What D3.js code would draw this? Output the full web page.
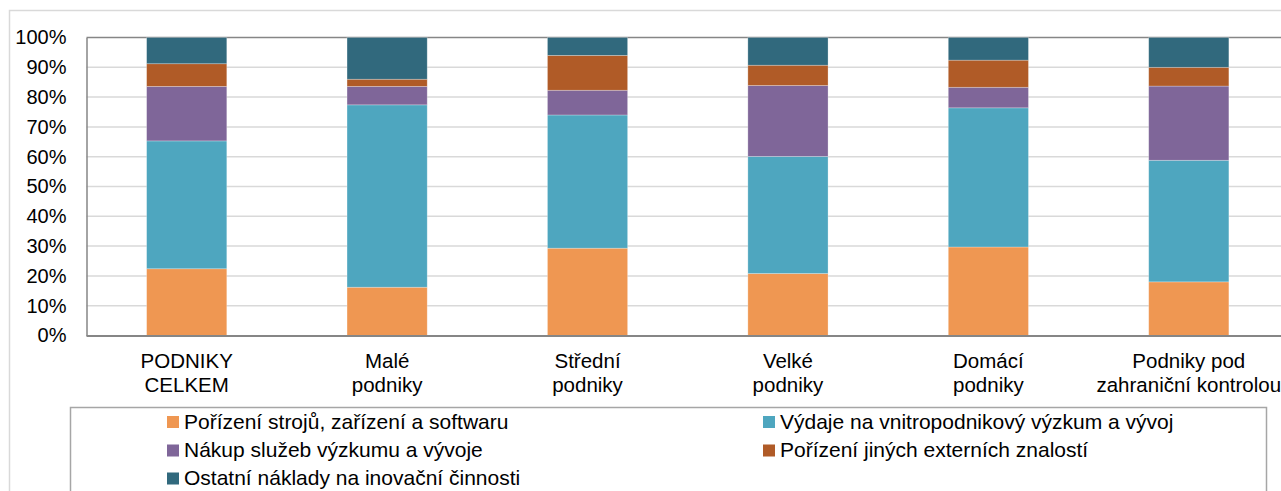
<html>
<head>
<meta charset="utf-8">
<script src="https://cdn.jsdelivr.net/npm/d3@7"></script>
<style>
  body { margin: 0; background: #fff; overflow: hidden; }
  svg { display: block; font-family: "Liberation Sans", Arial, sans-serif; }
  .tick text { fill: #000; }
</style>
</head>
<body>
<script>
// categories (two-line labels)
var categories = [
  ["PODNIKY", "CELKEM"],
  ["Malé", "podniky"],
  ["Střední", "podniky"],
  ["Velké", "podniky"],
  ["Domácí", "podniky"],
  ["Podniky pod", "zahraniční kontrolou"]
];

// series, % share
var seriesNames = [
  "Pořízení strojů, zařízení a softwaru",
  "Výdaje na vnitropodnikový výzkum a vývoj",
  "Nákup služeb výzkumu a vývoje",
  "Pořízení jiných externích znalostí",
  "Ostatní náklady na inovační činnosti"
];
var stroje   = [22.4, 16.2, 29.3, 20.8, 29.7, 18.0];
var vyzkum   = [42.9, 61.2, 44.7, 39.3, 46.7, 40.8];
var nakup    = [18.3,  6.2,  8.3, 23.8,  6.9, 24.9];
var znalosti = [ 7.6,  2.4, 11.7,  6.8,  9.1,  6.3];
var ostatni  = [ 8.8, 14.0,  6.0,  9.3,  7.6, 10.0];

var yTicks = [0, 10, 20, 30, 40, 50, 60, 70, 80, 90, 100];
var colors = ["#ef9752", "#4ea6bf", "#7f6699", "#b05b27", "#31697d"];

var width = 1281, height = 491;
var svg = d3.select("body").append("svg")
  .attr("width", width)
  .attr("height", height);

// outer chart frame
svg.append("rect")
  .attr("x", 9.5).attr("y", 10.5)
  .attr("width", 1300).attr("height", 500)
  .attr("fill", "none")
  .attr("stroke", "#d9d9d9")
  .attr("stroke-width", 1.5);

var keys = seriesNames;
var table = categories.map(function(c, i) {
  var row = { cat: c.join(" ") };
  row[keys[0]] = stroje[i];
  row[keys[1]] = vyzkum[i];
  row[keys[2]] = nakup[i];
  row[keys[3]] = znalosti[i];
  row[keys[4]] = ostatni[i];
  return row;
});

var x = d3.scaleBand()
  .domain(table.map(d => d.cat))
  .range([86.5, 1289])
  .paddingInner(0.6)
  .paddingOuter(0.3);

var y = d3.scaleLinear()
  .domain([0, 100])
  .range([335.5, 37.5]);

// gridlines
svg.append("g")
  .selectAll("line")
  .data(yTicks.filter(t => t > 0 && t < 100))
  .enter().append("line")
  .attr("x1", 86.5).attr("x2", 1300)
  .attr("y1", d => y(d)).attr("y2", d => y(d))
  .attr("stroke", "#d9d9d9")
  .attr("stroke-width", 1.5);

// top border of plot
svg.append("line")
  .attr("x1", 86.5).attr("x2", 1300)
  .attr("y1", y(100)).attr("y2", y(100))
  .attr("stroke", "#868686").attr("stroke-width", 1.5);

var stack = d3.stack().keys(keys);
var layers = stack(table);

svg.append("g")
  .selectAll("g")
  .data(layers)
  .enter().append("g")
  .attr("fill", (d, i) => colors[i])
  .selectAll("rect")
  .data(d => d)
  .enter().append("rect")
  .attr("x", d => x(d.data.cat))
  .attr("width", x.bandwidth())
  .attr("y", d => y(d[1]))
  .attr("height", d => y(d[0]) - y(d[1]))
  .attr("stroke", "#fff")
  .attr("stroke-opacity", 0.35)
  .attr("stroke-width", 0.75);

// y axis
var yAxis = svg.append("g")
  .attr("transform", "translate(86.5,0)")
  .call(d3.axisLeft(y).tickValues(yTicks).tickFormat(d => d + "%").tickSize(0).tickPadding(20));
yAxis.select(".domain").attr("stroke", "#868686").attr("stroke-width", 1.5);
yAxis.selectAll("text").attr("font-size", 20).attr("font-family", "Liberation Sans, Arial, sans-serif");

// x axis line
svg.append("line")
  .attr("x1", 86.5).attr("x2", 1300)
  .attr("y1", y(0) + 0.5).attr("y2", y(0) + 0.5)
  .attr("stroke", "#868686").attr("stroke-width", 2);

// category labels
var labels = svg.append("g")
  .selectAll("text")
  .data(categories)
  .enter().append("text")
  .attr("text-anchor", "middle")
  .attr("font-size", 20.5)
  .attr("fill", "#000")
  .attr("x", (d, i) => x(table[i].cat) + x.bandwidth() / 2)
  .attr("y", 367.5);
labels.selectAll("tspan")
  .data(d => d)
  .enter().append("tspan")
  .attr("x", function() { return d3.select(this.parentNode).attr("x"); })
  .attr("dy", (d, i) => i === 0 ? 0 : 24.5)
  .text(d => d);

// legend
svg.append("rect")
  .attr("x", 70.5).attr("y", 407.5)
  .attr("width", 1196).attr("height", 100)
  .attr("fill", "#fff")
  .attr("stroke", "#a6a6a6")
  .attr("stroke-width", 1.5);

var colX = [167, 763];
var rowY = [421.5, 450, 478];
var legend = svg.append("g")
  .selectAll("g")
  .data(seriesNames)
  .enter().append("g")
  .attr("transform", (d, i) => "translate(" + colX[i % 2] + "," + rowY[Math.floor(i / 2)] + ")");
legend.append("rect")
  .attr("x", 0).attr("y", -5.5)
  .attr("width", 12).attr("height", 12)
  .attr("fill", (d, i) => colors[i]);
legend.append("text")
  .attr("x", 17)
  .attr("y", 7)
  .attr("font-size", 21)
  .attr("fill", "#000")
  .text(d => d);
</script>
</body>
</html>
